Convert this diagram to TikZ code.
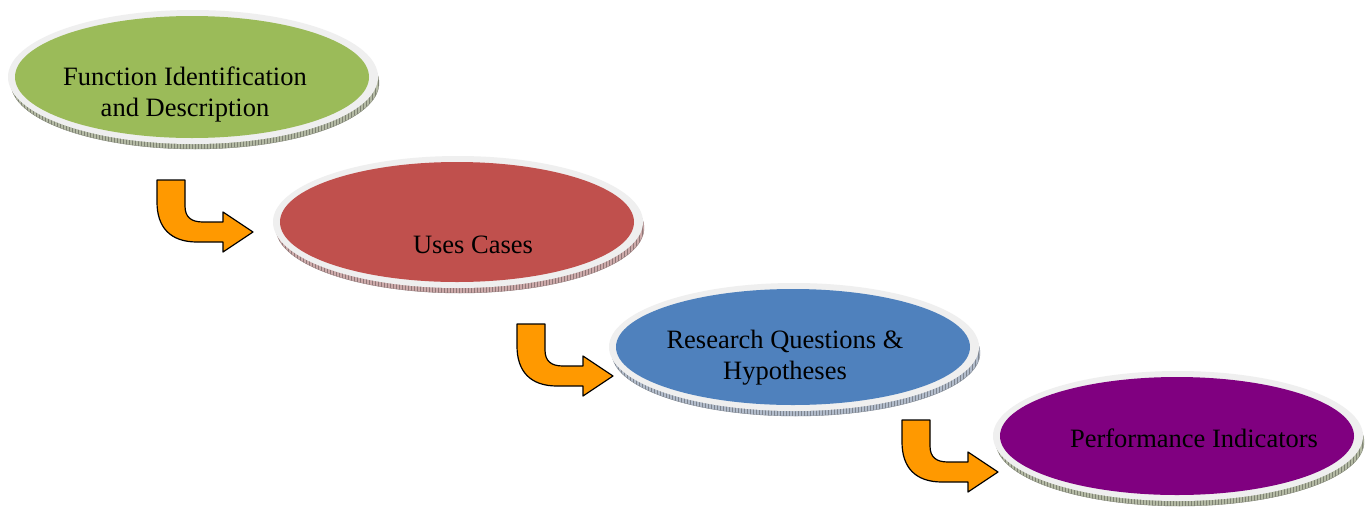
\documentclass[tikz,border=0pt]{standalone}
\usepackage{fontspec}
\setmainfont{Liberation Serif}
\usetikzlibrary{shapes.geometric,patterns}
\definecolor{cgreen}{HTML}{9BBB59}
\definecolor{cred}{HTML}{C0504D}
\definecolor{cblue}{HTML}{4F81BD}
\definecolor{cpurple}{HTML}{800080}
\definecolor{egreen}{HTML}{B4BAA4}
\definecolor{ered}{HTML}{CDAAAA}
\definecolor{eblue}{HTML}{B2BCCB}
\definecolor{rimgray}{HTML}{EFEFEF}
\definecolor{aorange}{HTML}{FF9900}
\tikzset{
  disctext/.style={align=center, font=\fontsize{26.5}{31}\selectfont, inner sep=0pt},
  bentarrow/.pic={
    \draw[fill=aorange, line width=1.2pt, line join=round]
      (0,0) -- (28,0) -- (28,26) .. controls (28,37) and (34,42) .. (46,42)
      -- (66,42) -- (66,32) -- (96,52) -- (66,72) -- (66,62) -- (40,62)
      .. controls (13,62) and (0,47) .. (0,22) -- cycle;
  }
}
\newcommand{\mydisk}[6]{%
  \fill[#6, draw=#6!75!black, line width=0.4pt] (#2+3,#3+6) ellipse [x radius=184, y radius=#4+5];
  \fill[pattern=vertical lines, pattern color=#6!70!black] (#2+3,#3+6) ellipse [x radius=184, y radius=#4+5];
  \fill[rimgray] (#2+1,#3) ellipse [x radius=185, y radius=#4+6];
  \node[ellipse, fill=#5, inner sep=0pt, minimum width=354pt, minimum height=2*#4pt] (#1) at (#2,#3) {};
}
\begin{document}
\begin{tikzpicture}[x=1pt,y=-1pt]
\useasboundingbox[fill=white] (0,0) rectangle (1367,512);
\mydisk{e1}{192}{77}{61}{cgreen}{egreen}
\node[disctext] (t1) at (185,94) {Function Identification\\and Description};
\mydisk{e2}{457}{222}{60}{cred}{ered}
\node[disctext] (t2) at (473,245) {Uses Cases};
\mydisk{e3}{793}{347}{58}{cblue}{eblue}
\node[disctext] (t3) at (785,358) {Research Questions \&\\Hypotheses};
\mydisk{e4}{1177}{436}{59}{cpurple}{egreen}
\node[disctext] (t4) at (1194,438) {Performance Indicators};
\pic (a1) at (157,180) {bentarrow};
\pic (a2) at (517,324) {bentarrow};
\pic (a3) at (902,420) {bentarrow};
\end{tikzpicture}
\end{document}
